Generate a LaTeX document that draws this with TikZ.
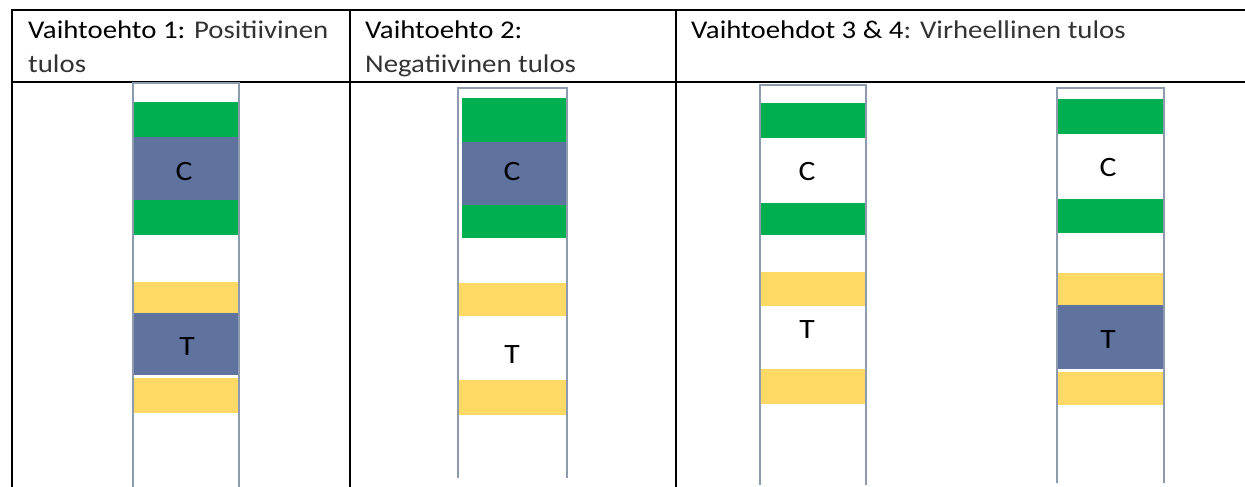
\documentclass[tikz,border=0pt]{standalone}
\usepackage{fontspec}
\setmainfont{Carlito}[FakeStretch=1.13]
\definecolor{stripgreen}{HTML}{00B050}
\definecolor{stripblue}{HTML}{5F739E}
\definecolor{stripyellow}{HTML}{FFD966}
\definecolor{stripedge}{HTML}{8E9BAF}
\definecolor{lighttext}{HTML}{333333}
\newcommand{\lighttxt}[1]{{\color{lighttext}#1}}
\tikzset{
  rule/.style={line width=2pt},
  head/.style={anchor=base west,inner sep=0pt,font=\fontsize{25.5}{34}\selectfont},
  stripline/.style={draw=stripedge,line width=1.6pt},
  stripletter/.style={inner sep=0pt,font=\fontsize{28}{30}\selectfont}
}
\begin{document}
\begin{tikzpicture}[x=1pt,y=-1pt]
    \useasboundingbox (0,0) rectangle (1245,487);
    % table rules
    \draw[rule] (12,487)--(12,10)--(1245,10);
    \draw[rule] (12,82)--(1245,82);
    \foreach \x in {350,676}
    {
        \draw[rule] (\x,10)--(\x,487);
    }
    % headings
    \node[head] (head1) at (28,39) {Vaihtoehto 1: \lighttxt{Positiivinen}};
    \node[head] (head1b) at (28,73) {\lighttxt{tulos}};
    \node[head] (head2) at (365,39) {Vaihtoehto 2:};
    \node[head] (head2b) at (365,73) {\lighttxt{Negatiivinen tulos}};
    \node[head] (head3) at (691,39) {Vaihtoehdot 3 \& 4\lighttxt{: Virheellinen tulos}};
    % strip 1
    \foreach \ya/\yb/\col in {102/137/stripgreen,137/200/stripblue,200/235/stripgreen,282/313/stripyellow,313/375/stripblue,378/413/stripyellow}
    {
        \fill[\col] (134,\ya) rectangle (238,\yb);
    }
    \draw[stripline] (133,487)--(133,83)--(239,83)--(239,487);
    \node[stripletter] (c1) at (184,172) {C};
    \node[stripletter] (t1) at (187,347) {T};
    % strip 2
    \foreach \ya/\yb/\col in {98/142/stripgreen,142/205/stripblue,205/238/stripgreen}
    {
        \fill[\col] (462,\ya) rectangle (568,\yb);
    }
    \foreach \ya/\yb in {283/316,380/415}
    {
        \fill[stripyellow] (459,\ya) rectangle (566,\yb);
    }
    \draw[stripline] (458,478)--(458,88)--(567,88)--(567,478);
    \node[stripletter] (c2) at (512,172) {C};
    \node[stripletter] (t2) at (512,355) {T};
    % strip 3
    \foreach \ya/\yb/\col in {103/138/stripgreen,203/235/stripgreen,272/306/stripyellow,369/404/stripyellow}
    {
        \fill[\col] (761,\ya) rectangle (865,\yb);
    }
    \draw[stripline] (760,485)--(760,85)--(866,85)--(866,485);
    \node[stripletter] (c3) at (807,172) {C};
    \node[stripletter] (t3) at (807,330) {T};
    % strip 4
    \foreach \ya/\yb/\col in {99/134/stripgreen,199/233/stripgreen,273/305/stripyellow,305/369/stripblue,372/405/stripyellow}
    {
        \fill[\col] (1058,\ya) rectangle (1163,\yb);
    }
    \draw[stripline] (1057,483)--(1057,88)--(1164,88)--(1164,483);
    \node[stripletter] (c4) at (1108,168) {C};
    \node[stripletter] (t4) at (1108,340) {T};
\end{tikzpicture}
\end{document}
